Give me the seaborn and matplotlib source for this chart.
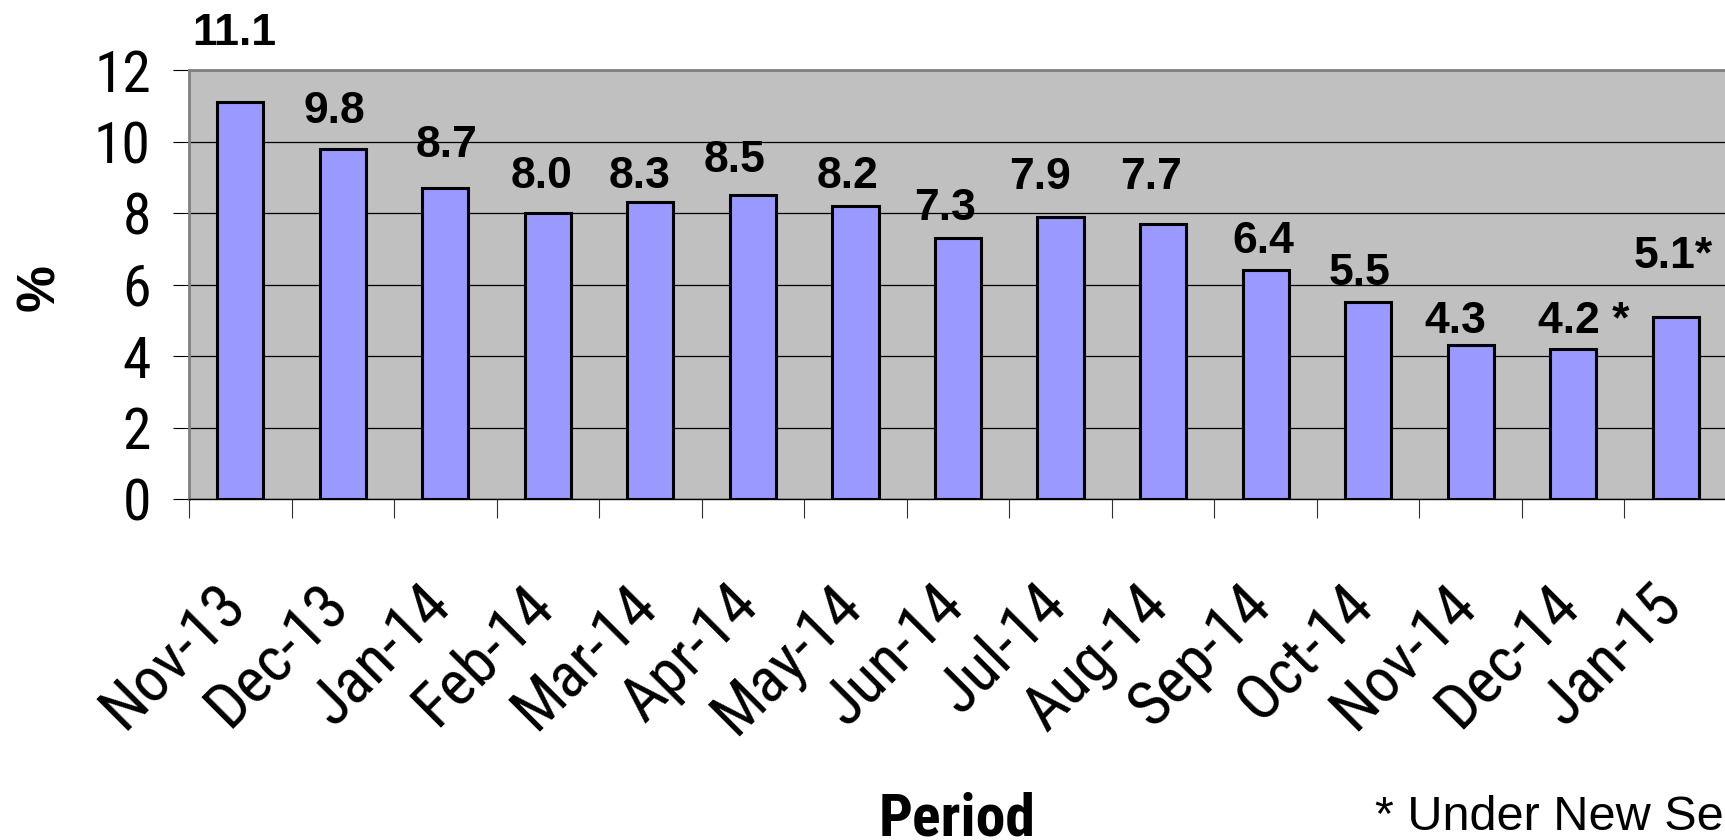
import numpy as np
import matplotlib
matplotlib.use("Agg")
import matplotlib.pyplot as plt
import matplotlib.transforms as mtransforms
import seaborn as sns

# ---- data ----
periods = ["Nov-13", "Dec-13", "Jan-14", "Feb-14", "Mar-14", "Apr-14", "May-14",
           "Jun-14", "Jul-14", "Aug-14", "Sep-14", "Oct-14", "Nov-14", "Dec-14", "Jan-15"]
values = [11.1, 9.8, 8.7, 8.0, 8.3, 8.5, 8.2, 7.3, 7.9, 7.7, 6.4, 5.5, 4.3, 4.2, 5.1]
label_suffix = ["", "", "", "", "", "", "", "", "", "", "", "", "", " *", "*"]
y_ticks = [0, 2, 4, 6, 8, 10, 12]
x_title = "Period"
y_title = "%"
footnote = "* Under New Series"

# ---- styling ----
# label offsets (pixels) relative to the top centre of each bar
label_offsets = [(-5.5, 57), (-8, 26), (1, 31), (-6, 25), (-10.5, 14), (-18.5, 23),
                 (-8, 18), (-13, 18), (-21, 28), (-12.5, 35), (-2, 17), (-8.5, 17),
                 (-15.5, 12), (10.5, 16), (-3, 49)]
NARROW = ["Roboto Condensed", "Liberation Sans", "DejaVu Sans"]
REGULAR = ["Liberation Sans", "DejaVu Sans"]

W, H, DPI = 1725, 840, 100
fig = plt.figure(figsize=(W / DPI, H / DPI), dpi=DPI)
fig.patch.set_facecolor("white")

left_px, right_px, top_px, bottom_px = 189, 1727, 70, 499
ax = fig.add_axes([left_px / W, 1 - bottom_px / H,
                   (right_px - left_px) / W, (bottom_px - top_px) / H])
ax.set_facecolor("#C0C0C0")

sns.barplot(x=periods, y=values, color="#9999FF", saturation=1, width=0.45,
            edgecolor="black", linewidth=2.2, ax=ax, zorder=3)

ax.set_xlim(-0.5, len(periods) - 0.5)
ax.set_ylim(0, 12)

# grid
ax.set_axisbelow(True)
ax.yaxis.grid(True, color="black", linewidth=0.9)
ax.xaxis.grid(False)

# spines
for s in ["top", "left"]:
    ax.spines[s].set_color("#808080")
    ax.spines[s].set_linewidth(2.0)
ax.spines["bottom"].set_color("black")
ax.spines["bottom"].set_linewidth(1.0)
ax.spines["right"].set_visible(False)

# y axis
ax.set_yticks(y_ticks)
ax.set_yticklabels([str(t) for t in y_ticks], family=NARROW, fontsize=41.5)
ax.tick_params(axis="y", which="major", direction="out", length=11.5, width=0.8,
               color="black", pad=16)

# x axis: labels at bar centres, ticks at category boundaries
ax.set_xticks(np.arange(len(periods)))
ax.set_xticklabels(periods, family=NARROW, fontsize=45.5)
ax.set_xticks(np.arange(-0.5, len(periods), 1.0), minor=True)
ax.tick_params(axis="x", which="major", length=0, pad=78)
ax.tick_params(axis="x", which="minor", direction="out", length=13.7, width=0.8,
               color="#303030")
shift = mtransforms.ScaledTranslation(8 / DPI, 0, fig.dpi_scale_trans)
for lbl in ax.get_xticklabels():
    lbl.set_rotation(45)
    lbl.set_ha("right")
    lbl.set_va("baseline")
    lbl.set_rotation_mode("anchor")
    lbl.set_transform(lbl.get_transform() + shift)

# axis titles
ax.set_xlabel(x_title, family=NARROW, fontsize=43, fontweight="bold")
ax.xaxis.set_label_coords(0.4993, -(835 - bottom_px) / (bottom_px - top_px))
ax.xaxis.label.set_va("baseline")

ax.set_ylabel(y_title, family=REGULAR, fontsize=38, fontweight="bold")
ax.yaxis.set_label_coords((40 - left_px) / (right_px - left_px),
                          (bottom_px - 288) / (bottom_px - top_px))
ax.yaxis.label.set_va("center")
ax.yaxis.label.set_ha("center")
ax.yaxis.label.set_rotation_mode("default")

# value labels
for i, (v, suf) in enumerate(zip(values, label_suffix)):
    dx, dy = label_offsets[i]
    ax.annotate(f"{v:.1f}{suf}", xy=(i, v), xytext=(dx, dy),
                textcoords="offset pixels", ha="center", va="baseline",
                family=REGULAR, fontsize=32, fontweight="bold",
                annotation_clip=False, zorder=5)

# footnote
fig.text(1375 / W, 1 - 830 / H, footnote, ha="left", va="baseline",
         family=REGULAR, fontsize=35)

fig.savefig("out.png", dpi=DPI, facecolor="white")
